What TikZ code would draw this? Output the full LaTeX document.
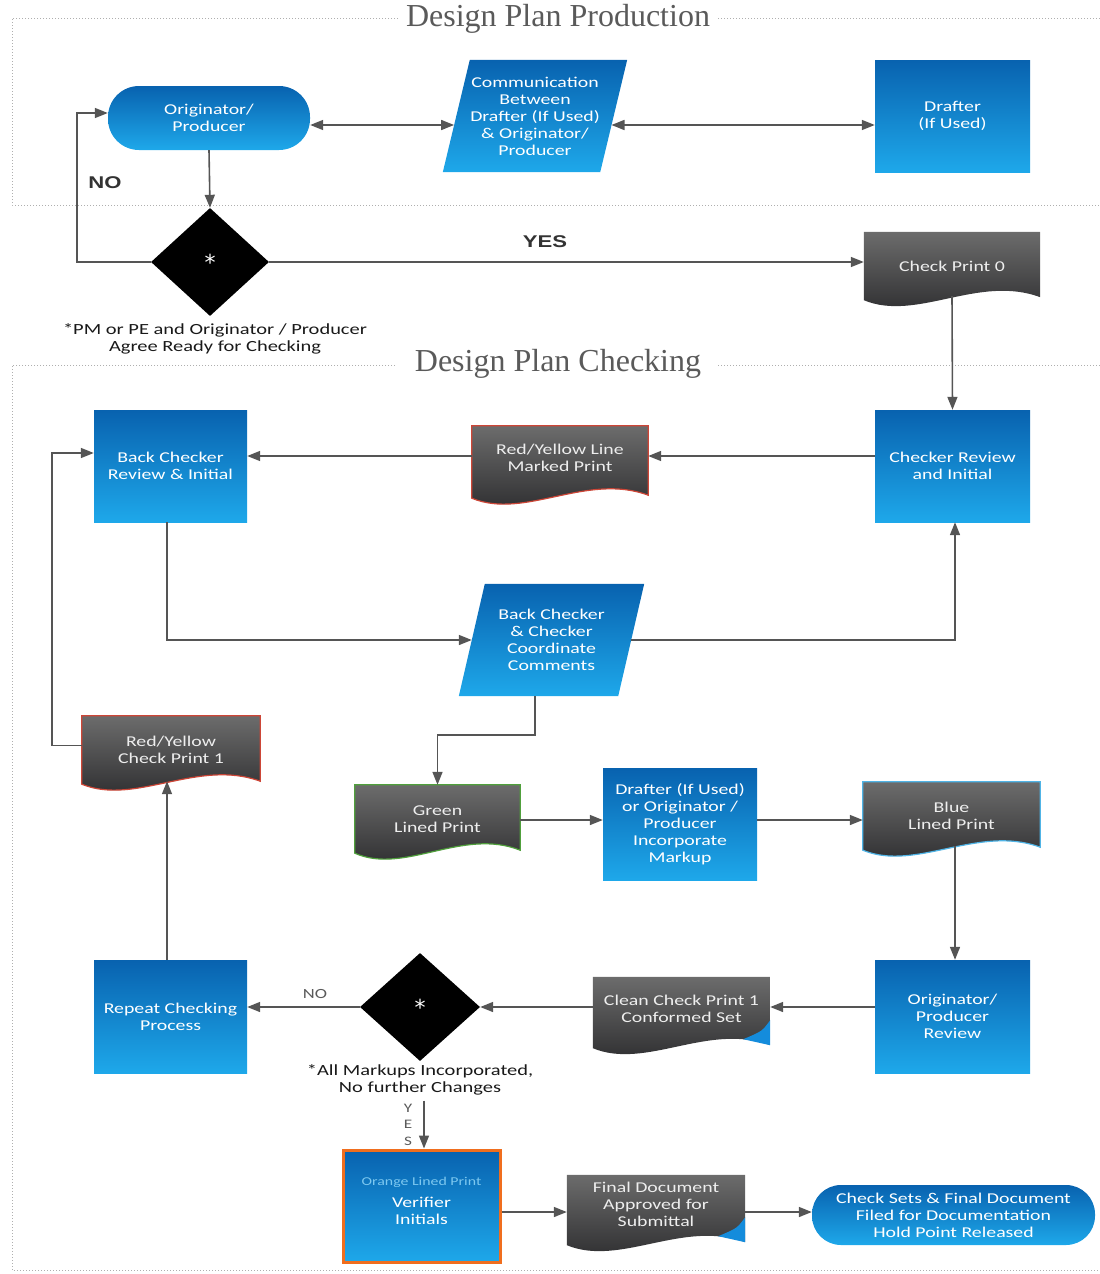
\documentclass[tikz,border=0pt]{standalone}
\usepackage{fontspec}
\setmainfont{Carlito}[FakeStretch=1.32]
\newfontfamily\titlefont{Liberation Serif}
\newfontfamily\boldlbl{Liberation Sans}[FakeStretch=1.3]
\newfontfamily\astfont{DejaVu Sans}
\usetikzlibrary{arrows.meta,shapes.geometric,calc,backgrounds}

\definecolor{bluetop}{RGB}{8,98,175}
\definecolor{bluebot}{RGB}{30,168,234}
\definecolor{doctop}{RGB}{108,108,108}
\definecolor{docbot}{RGB}{40,40,42}
\definecolor{linegray}{RGB}{85,85,85}
\definecolor{redline}{RGB}{205,70,55}
\definecolor{greenline}{RGB}{80,160,60}
\definecolor{blueline}{RGB}{80,180,230}
\definecolor{orangeline}{RGB}{240,110,30}
\definecolor{framegray}{RGB}{175,175,175}
\definecolor{doctext}{RGB}{238,238,238}
\definecolor{smallblue}{RGB}{125,200,240}
\definecolor{curlblue}{RGB}{20,140,220}
\definecolor{titlegray}{RGB}{90,90,90}

\newcommand\docshape[2]{%
  \path[top color=doctop, bottom color=docbot, #2]
    (#1.north west) -- (#1.north east) -- ([yshift=3pt]#1.south east)
    .. controls ($(#1.south west)!0.65!(#1.south east)+(0,26pt)$)
    and ($(#1.south west)!0.3!(#1.south east)+(0,-22pt)$) .. (#1.south west) -- cycle;}
\newcommand\doccurl[1]{%
  \fill[curlblue] ([yshift=3pt]#1.south east) -- ([yshift=28pt]#1.south east)
    .. controls ([xshift=-8pt,yshift=17pt]#1.south east) .. ([xshift=-27pt,yshift=9pt]#1.south east) -- cycle;}
\newcommand\paragram[2]{%
  \path[top color=bluetop, bottom color=bluebot]
    (#1.south west) -- ([xshift=#2]#1.north west) -- (#1.north east)
    -- ([xshift=-#2]#1.south east) -- cycle;}

\tikzset{
  txt/.style={font=\fontsize{15}{17}\selectfont, align=center, text=white},
  bluebox/.style={txt, rectangle, top color=bluetop, bottom color=bluebot, draw=none, inner sep=2pt},
  holder/.style={txt, rectangle, draw=none, inner sep=0pt},
  docnode/.style={holder, text=doctext},
  decision/.style={diamond, fill=black, draw=none, text=white, inner sep=0pt, font=\astfont\fontsize{22}{22}\selectfont},
  conn/.style={draw=linegray, line width=1.6pt, -{Triangle[length=13pt,width=10pt]}},
  dconn/.style={draw=linegray, line width=1.6pt, {Triangle[length=13pt,width=10pt]}-{Triangle[length=13pt,width=10pt]}},
  dotframe/.style={draw=framegray, line width=1pt, dotted},
  ttl/.style={font=\titlefont\fontsize{32}{34}\selectfont, text=titlegray},
  captxt/.style={font=\fontsize{15.5}{17}\selectfont, text=black!90, align=center},
  boldlabel/.style={font=\boldlbl\bfseries\fontsize{17}{19}\selectfont, text=black!80},
}

\begin{document}
\begin{tikzpicture}[x=1pt,y=1pt]
\useasboundingbox (0,0) rectangle (1100,-1274);

% frames
\draw[dotframe] (398,-18) -- (12,-18) -- (12,-205) -- (1100,-205);
\draw[dotframe] (718,-18) -- (1100,-18);
\node[ttl] (t1) at (558,-19) {Design Plan Production};
\draw[dotframe] (395,-365) -- (12,-365) -- (12,-1270) -- (1100,-1270);
\draw[dotframe] (718,-365) -- (1100,-365);
\node[ttl] (t2) at (558,-364) {Design Plan Checking};

% production nodes
\node[bluebox, minimum width=202pt, minimum height=64pt, rounded corners=31pt] (orig) at (209,-118) {Originator/\\Producer};
\node[holder, minimum width=184pt, minimum height=112pt] (comm) at (535,-116) {Communication\\Between\\Drafter (If Used)\\\& Originator/\\Producer};
\node[bluebox, minimum width=155pt, minimum height=112pt] (drafter) at (952.5,-116) {Drafter\\(If Used)};
\node[decision, minimum width=118pt, minimum height=108pt] (d1) at (210,-262) {\raisebox{-8pt}{*}};
\node[docnode, minimum width=176pt, minimum height=68pt] (cp0) at (952,-266) {Check Print 0};
\node[captxt] (cap1) at (215,-339) {*PM or PE and Originator / Producer\\Agree Ready for Checking};
\node[boldlabel] (no1) at (105,-183) {NO};
\node[boldlabel] (yes1) at (545,-242) {YES};

% checking nodes
\node[bluebox, minimum width=155pt, minimum height=112pt] (chk) at (952.5,-466) {Checker Review\\and Initial};
\node[docnode, minimum width=176pt, minimum height=72pt] (rym) at (560,-462) {Red/Yellow Line\\Marked Print\\[-8pt]\mbox{}};
\node[bluebox, minimum width=153pt, minimum height=112pt] (bc) at (170.5,-466) {Back Checker\\Review \& Initial};
\node[holder, minimum width=185pt, minimum height=112pt] (bcc) at (551.5,-640) {Back Checker\\\& Checker\\Coordinate\\Comments};
\node[docnode, minimum width=178pt, minimum height=68pt] (ry1) at (171,-750) {Red/Yellow\\Check Print 1};
\node[docnode, minimum width=165pt, minimum height=68pt] (green) at (437.5,-819) {Green\\Lined Print};
\node[bluebox, minimum width=154pt, minimum height=112pt] (dom) at (680,-824) {Drafter (If Used)\\or Originator /\\Producer\\Incorporate\\Markup};
\node[docnode, minimum width=177pt, minimum height=68pt] (blue) at (951.5,-816) {Blue\\Lined Print};
\node[bluebox, minimum width=155pt, minimum height=113pt] (opr) at (952.5,-1016.5) {Originator/\\Producer\\Review};
\node[docnode, minimum width=177pt, minimum height=71pt] (clean) at (681.5,-1012.5) {Clean Check Print 1\\Conformed Set\\[-10pt]\mbox{}};
\node[decision, minimum width=120pt, minimum height=108pt] (d2) at (420,-1007) {\raisebox{-8pt}{*}};
\node[bluebox, minimum width=153pt, minimum height=113pt] (rep) at (170.5,-1016.5) {Repeat Checking\\Process};
\node[captxt] (cap2) at (420,-1080) {*All Markups Incorporated,\\No further Changes};
\node[font=\fontsize{14}{16}\selectfont, text=titlegray] (no2) at (315,-994) {NO};
\node[font=\fontsize{13}{15}\selectfont, text=titlegray] (yy) at (408,-1108) {Y};
\node[font=\fontsize{13}{15}\selectfont, text=titlegray] (ye) at (408,-1124) {E};
\node[font=\fontsize{13}{15}\selectfont, text=titlegray] (ys) at (408,-1141) {S};
\node[bluebox, minimum width=157pt, minimum height=112pt, draw=orangeline, line width=3pt] (ver) at (421.5,-1206) {{\color{smallblue}\fontsize{12}{14}\selectfont Orange Lined Print}\\[5pt]Verifier\\Initials\\[-7pt]\mbox{}};
\node[docnode, minimum width=178pt, minimum height=70pt] (final) at (656,-1210) {Final Document\\Approved for\\Submittal\\[-6pt]\mbox{}};
\node[bluebox, minimum width=283pt, minimum height=60pt, rounded corners=29pt] (cs) at (953.5,-1215) {Check Sets \& Final Document\\Filed for Documentation\\Hold Point Released};

% shapes on background
\begin{scope}[on background layer]
  \paragram{comm}{27pt}
  \paragram{bcc}{26pt}
  \docshape{cp0}{}
  \docshape{rym}{draw=redline, line width=1.2pt}
  \docshape{ry1}{draw=redline, line width=1.2pt}
  \docshape{green}{draw=greenline, line width=1.2pt}
  \docshape{blue}{draw=blueline, line width=1.2pt}
  \docshape{clean}{}
  \doccurl{clean}
  \docshape{final}{}
  \doccurl{final}
\end{scope}

% connectors
\draw[dconn] ([yshift=-7pt]orig.east) -- ([xshift=11.3pt,yshift=-9pt]comm.west);
\draw[dconn] ([xshift=-15.7pt,yshift=-9pt]comm.east) -- ([yshift=-9pt]drafter.west);
\draw[conn] (orig.south) -- (d1.north);
\draw[conn] (d1.west) -- ++(-74pt,0) |- ([yshift=5pt]orig.west);
\draw[conn] (d1.east) -- (d1.east -| cp0.west);
\draw[conn] ([yshift=4pt]cp0.south) -- (chk.north);
\draw[conn] ([yshift=10pt]chk.west) -- ([yshift=10pt]chk.west -| rym.east);
\draw[conn] ([yshift=10pt]bc.east -| rym.west) -- ([yshift=10pt]bc.east);
\draw[conn] ([xshift=-3.5pt]bc.south) |- ([xshift=13pt]bcc.west);
\draw[conn] ([xshift=-13pt]bcc.east) -| ([xshift=2.5pt]chk.south);
\draw[conn] ([xshift=-16.5pt]bcc.south) -- ++(0,-39pt) -| (green.north);
\draw[conn] ([yshift=4pt]dom.west -| green.east) -- ([yshift=4pt]dom.west);
\draw[conn] ([yshift=4pt]dom.east) -- ([yshift=4pt]dom.east -| blue.west);
\draw[conn] ([xshift=3.5pt,yshift=4pt]blue.south) -- ([xshift=2.5pt]opr.north);
\draw[conn] ([yshift=9.5pt]opr.west) -- ([yshift=9.5pt]opr.west -| clean.east);
\draw[conn] (d2.east -| clean.west) -- (d2.east);
\draw[conn] (d2.west) -- (d2.west -| rep.east);
\draw[conn] ([xshift=-3.5pt]rep.north) -- ([xshift=-4pt,yshift=3pt]ry1.south);
\draw[conn] ([yshift=4.5pt]ry1.west) -- ++(-30pt,0) |- ([yshift=13pt]bc.west);
\draw[conn] ([xshift=2.5pt,yshift=48pt]ver.north) -- ([xshift=2.5pt]ver.north);
\draw[conn] ([yshift=-6pt]ver.east) -- ([yshift=-6pt]ver.east -| final.west);
\draw[conn] ([yshift=-6pt]ver.east -| final.east) -- ([yshift=-6pt]ver.east -| cs.west);
\end{tikzpicture}
\end{document}
